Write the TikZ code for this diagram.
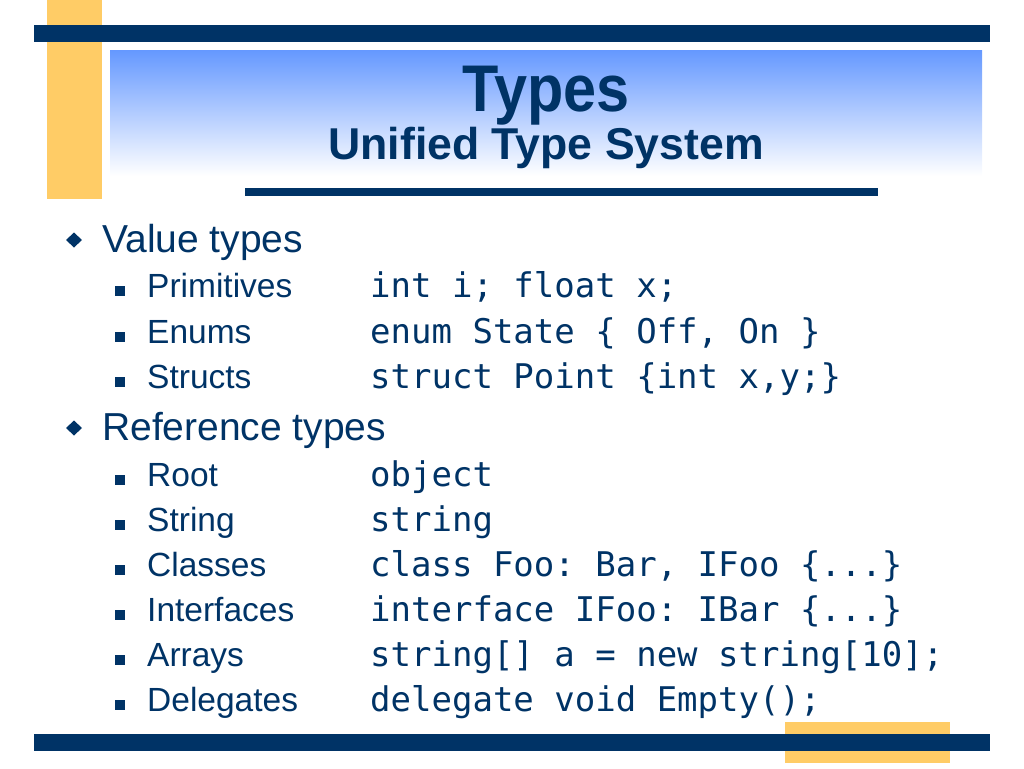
\documentclass[tikz,border=0pt]{standalone}
\usepackage{fontspec}
\setmainfont{Liberation Sans}
\setmonofont{DejaVu Sans Mono}
\usepackage{graphicx}
\usepackage{tikz}
\definecolor{navy}{HTML}{003366}
\definecolor{gold}{HTML}{FFCC66}
\definecolor{skyblue}{HTML}{6699FF}

\begin{document}
\begin{tikzpicture}[x=1pt, y=-1pt,
    every node/.style={inner sep=0, anchor=base west, text=navy},
    topic/.style={font=\fontsize{39}{47}\selectfont},
    item/.style={font=\fontsize{33.5}{40}\selectfont},
    code/.style={font=\ttfamily\frenchspacing\fontsize{34}{40}\selectfont},
    sq/.style={fill=navy, anchor=center, minimum size=10pt}]
        \useasboundingbox (0,0) rectangle (1024,768);
        % frame of the slide
        \fill[gold] (47,0) rectangle (102,199);
        \fill[navy] (34,25) rectangle (990,42);
        \shade[top color=skyblue, middle color=skyblue!42, bottom color=white] (110,51) rectangle (982,176);
        \fill[navy] (245,188) rectangle (878,196);
        \fill[gold] (785,722) rectangle (950,763);
        \fill[navy] (34,734) rectangle (990,751);
        % title
        \node[anchor=base, font=\bfseries\fontsize{66}{70}\selectfont] (title) at (546,111) {\scalebox{0.9}[1]{Types}};
        \node[anchor=base, font=\bfseries\fontsize{44.6}{50}\selectfont] (subtitle) at (546,159) {Unified Type System};
        % value types
        \fill[navy] (66,240) -- (74,232.5) -- (82,240) -- (74,247.5) -- cycle;
        \node[topic] (val) at (102,252) {Value types};
        \node[sq] (s1) at (119.5,290.5) {};
        \node[item] (prim) at (147,297) {Primitives};
        \node[code] (primcode) at (370,297) {int i; float x;};
        \node[sq] (s2) at (119.5,336.5) {};
        \node[item] (enum) at (147,343) {Enums};
        \node[code] (enumcode) at (370,343) {enum State \{ Off, On \}};
        \node[sq] (s3) at (119.5,381.5) {};
        \node[item] (struct) at (147,388) {Structs};
        \node[code] (structcode) at (370,388) {struct Point \{int x,y;\}};
        % reference types
        \fill[navy] (66,428) -- (74,420.5) -- (82,428) -- (74,435.5) -- cycle;
        \node[topic] (ref) at (102,440) {Reference types};
        \node[sq] (s4) at (119.5,479.5) {};
        \node[item] (root) at (147,486) {Root};
        \node[code] (rootcode) at (370,486) {object};
        \node[sq] (s5) at (119.5,524.5) {};
        \node[item] (str) at (147,531) {String};
        \node[code] (strcode) at (370,531) {string};
        \node[sq] (s6) at (119.5,569.5) {};
        \node[item] (cls) at (147,576) {Classes};
        \node[code] (clscode) at (370,576) {class Foo: Bar, IFoo \{...\}};
        \node[sq] (s7) at (119.5,614.5) {};
        \node[item] (intf) at (147,621) {Interfaces};
        \node[code] (intfcode) at (370,621) {interface IFoo: IBar \{...\}};
        \node[sq] (s8) at (119.5,659.5) {};
        \node[item] (arr) at (147,666) {Arrays};
        \node[code] (arrcode) at (370,666) {string[] a = new string[10];};
        \node[sq] (s9) at (119.5,704.5) {};
        \node[item] (dlg) at (147,711) {Delegates};
        \node[code] (dlgcode) at (370,711) {delegate void Empty();};
    \end{tikzpicture}
\end{document}
